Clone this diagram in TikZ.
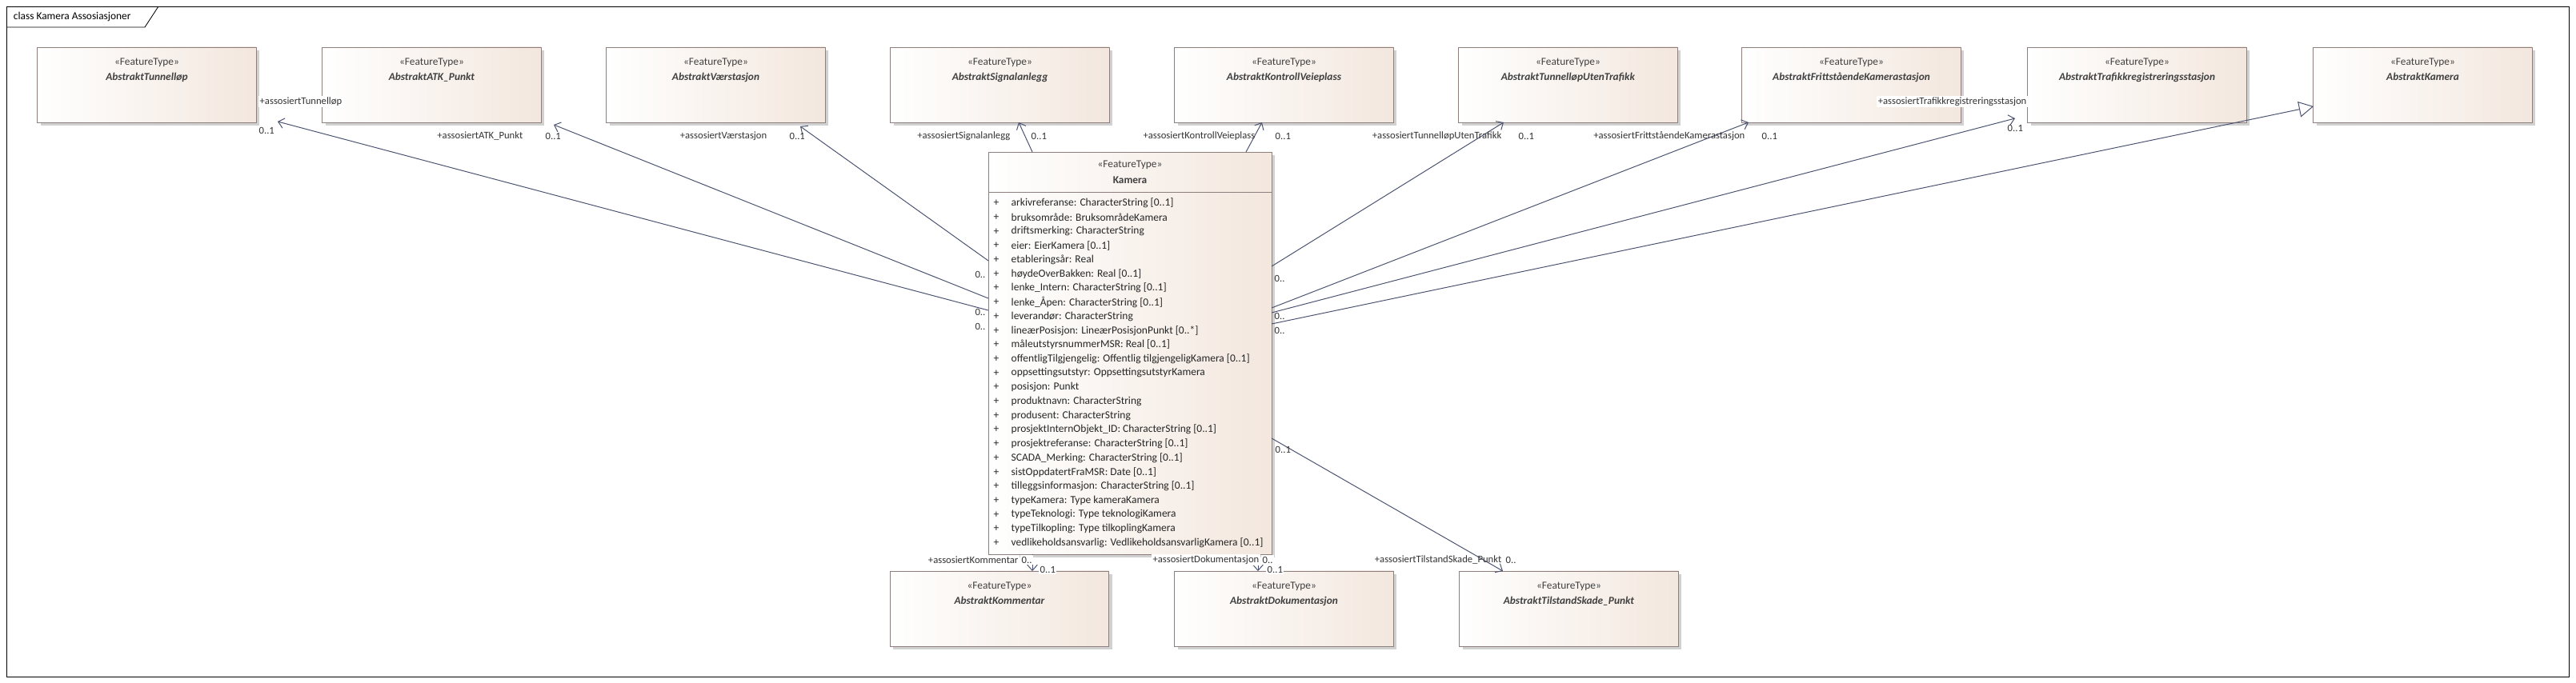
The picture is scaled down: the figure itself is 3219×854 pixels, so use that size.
\documentclass[tikz,border=0pt]{standalone}
\usepackage{fontspec}
\setmainfont{Carlito}
\usetikzlibrary{arrows.meta}
\usetikzlibrary{calc}

\definecolor{eaLine}{HTML}{4A5270}
\definecolor{eaBorder}{HTML}{8E7F7F}
\definecolor{eaFill}{HTML}{F3E7DE}

\tikzset{
  ftype/.style={draw=eaBorder, line width=0.6pt, left color=white, right color=eaFill,
    minimum width=6.83cm, minimum height=2.35cm, inner sep=0pt},
  shadow/.style={fill=black!18, draw=none, minimum width=6.83cm, minimum height=2.35cm},
  assoc/.style={draw=eaLine, line width=0.7pt, -{Straight Barb[length=5pt,width=9pt]}},
  gen/.style={draw=eaLine, line width=0.7pt, -{Triangle[open,length=13pt,width=14pt,fill=white]}},
  role/.style={font=\fontsize{9}{10}\selectfont, inner sep=1pt, text=black!80},
  mult/.style={font=\fontsize{9}{10}\selectfont, inner sep=1pt, text=black!80},
}

\newcommand{\ftbox}[4]{%
  \node[shadow] at ($(#2,#3)+(4,4)$) {};
  \node[ftype] (#1) at (#2,#3) {};
  \node[anchor=north, align=center, font=\fontsize{9.5}{14}\selectfont, text=black!75]
    at ($(#1.north)+(0,9)$) {«FeatureType»\\\textbf{\textit{#4}}};
}

\begin{document}
\begin{tikzpicture}[x=0.025cm,y=-0.025cm]
\useasboundingbox (0,0) rectangle (3219,854);

% frame
\draw[line width=0.7pt] (8,8) rectangle (3210,846);
\draw[line width=0.6pt] (8,34) -- (181,34) -- (198,8);
\node[anchor=west, font=\fontsize{9.5}{10}\selectfont] (title) at (12,21) {class Kamera Assosiasjoner};

% top row
\ftbox{tun}{183.5}{106}{AbstraktTunnelløp}
\ftbox{atk}{539.5}{106}{AbstraktATK\_Punkt}
\ftbox{vaer}{894.5}{106}{AbstraktVærstasjon}
\ftbox{sig}{1249.5}{106}{AbstraktSignalanlegg}
\ftbox{kon}{1604.5}{106}{AbstraktKontrollVeieplass}
\ftbox{tut}{1959.5}{106}{AbstraktTunnelløpUtenTrafikk}
\ftbox{fri}{2313.5}{106}{AbstraktFrittståendeKamerastasjon}
\ftbox{trf}{2670.5}{106}{AbstraktTrafikkregistreringsstasjon}
\ftbox{abk}{3027.5}{106}{AbstraktKamera}

% bottom row
\ftbox{kom}{1249}{761}{AbstraktKommentar}
\ftbox{dok}{1604.5}{761}{AbstraktDokumentasjon}
\ftbox{til}{1960.5}{761}{AbstraktTilstandSkade\_Punkt}

% Kamera
\fill[black!18] (1239,194) rectangle (1593,697);
\draw[draw=eaBorder, line width=0.6pt, left color=white, right color=eaFill] (1235,190) rectangle (1589,693);
\node[inner sep=0pt, minimum width=8.85cm, minimum height=12.575cm] (kam) at (1412,441.5) {};
\draw[eaBorder, line width=0.6pt] (1235,240) -- (1589,240);
\node[align=center, font=\fontsize{9.5}{14}\selectfont, text=black!75] (kamt) at (1412,215) {«FeatureType»\\\textbf{Kamera}};
\foreach \a [count=\i from 0] in {%
  {arkivreferanse: CharacterString [0..1]},
  {bruksområde: BruksområdeKamera},
  {driftsmerking: CharacterString},
  {eier: EierKamera [0..1]},
  {etableringsår: Real},
  {høydeOverBakken: Real [0..1]},
  {lenke\_Intern: CharacterString [0..1]},
  {lenke\_Åpen: CharacterString [0..1]},
  {leverandør: CharacterString},
  {lineærPosisjon: LineærPosisjonPunkt [0..*]},
  {måleutstyrsnummerMSR: Real [0..1]},
  {offentligTilgjengelig: Offentlig tilgjengeligKamera [0..1]},
  {oppsettingsutstyr: OppsettingsutstyrKamera},
  {posisjon: Punkt},
  {produktnavn: CharacterString},
  {produsent: CharacterString},
  {prosjektInternObjekt\_ID: CharacterString [0..1]},
  {prosjektreferanse: CharacterString [0..1]},
  {SCADA\_Merking: CharacterString [0..1]},
  {sistOppdatertFraMSR: Date [0..1]},
  {tilleggsinformasjon: CharacterString [0..1]},
  {typeKamera: Type kameraKamera},
  {typeTeknologi: Type teknologiKamera},
  {typeTilkopling: Type tilkoplingKamera},
  {vedlikeholdsansvarlig: VedlikeholdsansvarligKamera [0..1]}}
{
  \node[font=\fontsize{9.6}{10}\selectfont, inner sep=1pt, text=black!85, anchor=center] (p\i) at (1245,254+\i*17.7) {+};
  \node[font=\fontsize{9.6}{10}\selectfont, inner sep=1pt, text=black!85, anchor=west] (a\i) at (1262,254+\i*17.7) {\a};
}

% connector ends
\coordinate (kTun) at (1235,388);
\coordinate (kAtk) at (1235,373);
\coordinate (kVaer) at (1235,326);
\coordinate (kSig) at (1290,190);
\coordinate (kKon) at (1557,190);
\coordinate (kTut) at (1589,333);
\coordinate (kFri) at (1589,385);
\coordinate (kTrf) at (1589,391);
\coordinate (kAbk) at (1589,405);
\coordinate (kKom) at (1290,693);
\coordinate (kDok) at (1572,693);
\coordinate (kTil) at (1589,548);
\coordinate (eTun) at (347,152);
\coordinate (eAtk) at (692,156);
\coordinate (eVaer) at (1000,158);
\coordinate (eSig) at (1273,153);
\coordinate (eKon) at (1577,153);
\coordinate (eTut) at (1879,153);
\coordinate (eFri) at (2185,153);
\coordinate (eTrf) at (2518,148);
\coordinate (eAbk) at (2891,133);
\coordinate (eKom) at (1290,714);
\coordinate (eDok) at (1572,714);
\coordinate (eTil) at (1878,714);

\draw[assoc] (kTun) -- (eTun);
\draw[assoc] (kAtk) -- (eAtk);
\draw[assoc] (kVaer) -- (eVaer);
\draw[assoc] (kSig) -- (eSig);
\draw[assoc] (kKon) -- (eKon);
\draw[assoc] (kTut) -- (eTut);
\draw[assoc] (kFri) -- (eFri);
\draw[assoc] (kTrf) -- (eTrf);
\draw[gen] (kAbk) -- (eAbk);
\draw[assoc] (kKom) -- (eKom);
\draw[assoc] (kDok) -- (eDok);
\draw[assoc] (kTil) -- (eTil);

% roles and multiplicities
\node[role, fill=white, anchor=west] (rTun) at (323,127) {+assosiertTunnelløp};
\node[mult, anchor=west] (mTun) at (322,163) {0..1};
\node[role, anchor=east] (rAtk) at (655,170) {+assosiertATK\_Punkt};
\node[mult, anchor=west] (mAtk) at (680,170) {0..1};
\node[role, anchor=east] (rVaer) at (960,170) {+assosiertVærstasjon};
\node[mult, anchor=west] (mVaer) at (985,170) {0..1};
\node[role, anchor=east] (rSig) at (1264,170) {+assosiertSignalanlegg};
\node[mult, anchor=west] (mSig) at (1287,170) {0..1};
\node[role, anchor=east] (rKon) at (1570,170) {+assosiertKontrollVeieplass};
\node[mult, anchor=west] (mKon) at (1592,170) {0..1};
\node[role, anchor=east] (rTut) at (1878,170) {+assosiertTunnelløpUtenTrafikk};
\node[mult, anchor=west] (mTut) at (1896,170) {0..1};
\node[role, anchor=east] (rFri) at (2182,170) {+assosiertFrittståendeKamerastasjon};
\node[mult, anchor=west] (mFri) at (2200,170) {0..1};
\node[role, fill=white, anchor=east] (rTrf) at (2534,127) {+assosiertTrafikkregistreringsstasjon};
\node[mult, anchor=west] (mTrf) at (2507,160) {0..1};
\foreach \y [count=\i] in {343,390,408}{
  \node[mult, anchor=east] (ml\i) at (1233,\y) {0..};
  \node[mult, anchor=west] (mr\i) at (1591,\y+5) {0..};
}
\node[mult, anchor=west] (mTil) at (1592,562) {0..1};
\node[role, fill=white, anchor=east] (rKom) at (1274,700) {+assosiertKommentar};
\node[mult, fill=white, anchor=west] (mKom1) at (1275,700) {0..};
\node[mult, fill=white, anchor=west] (mKom2) at (1298,712) {0..1};
\node[role, fill=white, anchor=east] (rDok) at (1575,700) {+assosiertDokumentasjon};
\node[mult, fill=white, anchor=west] (mDok1) at (1576,700) {0..};
\node[mult, fill=white, anchor=west] (mDok2) at (1582,712) {0..1};
\node[role, anchor=east] (rTil) at (1878,700) {+assosiertTilstandSkade\_Punkt};
\node[mult, anchor=west] (mTil2) at (1880,700) {0..};
\end{tikzpicture}
\end{document}
